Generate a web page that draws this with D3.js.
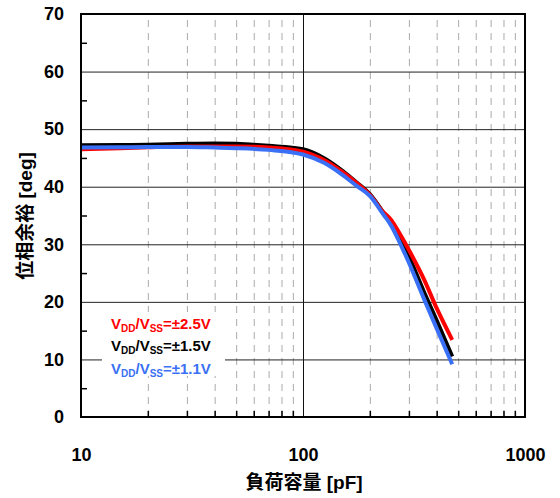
<!DOCTYPE html>
<html><head><meta charset="utf-8">
<script src="https://cdn.jsdelivr.net/npm/d3@7"></script>
<style>
html,body{margin:0;padding:0;background:#fff;}
svg{display:block;font-family:"Liberation Sans",Arial,sans-serif;}
</style></head>
<body><svg id="c" width="560" height="498"></svg>
<script>
// ---- data ----
const capacitance = [10, 15, 20, 30, 40, 50, 70, 100, 125, 150, 175, 200, 230, 250, 275, 300, 350, 400, 470];
const margin25 = [46.5, 46.7, 46.85, 47.0, 47.0, 47.0, 46.8, 46.1, 44.6, 42.6, 40.6, 38.6, 35.6, 34.2, 31.6, 29.0, 24.0, 18.9, 13.4];
const margin15 = [47.2, 47.25, 47.3, 47.45, 47.5, 47.45, 47.1, 46.5, 44.9, 42.8, 40.7, 38.7, 35.5, 33.4, 30.5, 27.8, 21.8, 16.8, 10.5];
const margin11 = [46.8, 46.85, 46.9, 46.9, 46.8, 46.7, 46.4, 45.6, 44.1, 42.1, 40.1, 38.4, 35.2, 33.2, 30.0, 26.8, 20.6, 15.4, 9.15];
const seriesNames = ["±2.5V", "±1.5V", "±1.1V"];
const seriesColors = ["#ff0000", "#000000", "#3a70f5"];
const yTicks = [0, 10, 20, 30, 40, 50, 60, 70];
const yMinor = [5, 15, 25, 35, 45, 55, 65];
const xTicks = [10, 100, 1000];
const xMinor = [20, 30, 40, 50, 60, 70, 80, 90, 200, 300, 400, 500, 600, 700, 800, 900];
const xTitle = "負荷容量 [pF]";
const yTitle = "位相余裕 [deg]";

// ---- chart ----
const svg = d3.select("#c");
const L = 81, R = 525, T = 14, B = 417;
const x = d3.scaleLog().domain([10, 1000]).range([L, R]);
const y = d3.scaleLinear().domain([0, 70]).range([B, T]);

svg.append("rect").attr("width", 560).attr("height", 498).attr("fill", "#fff");

// minor vertical dashed grid
svg.append("g").attr("transform", `translate(0,${B})`)
  .call(d3.axisBottom(x).tickValues(xMinor).tickSize(-(B - T)).tickFormat(""))
  .call(g => g.select(".domain").remove())
  .call(g => g.selectAll("line").attr("stroke", "#aaa").attr("stroke-width", 1).attr("stroke-dasharray", "7,6"));

// major vertical grid
svg.append("g").attr("transform", `translate(0,${B})`)
  .call(d3.axisBottom(x).tickValues([100]).tickSize(-(B - T)).tickFormat(""))
  .call(g => g.select(".domain").remove())
  .call(g => g.selectAll("line").attr("stroke", "#111").attr("stroke-width", 1));

// horizontal grid
svg.append("g").attr("transform", `translate(${L},0)`)
  .call(d3.axisLeft(y).tickValues(yTicks.filter(v => v > 0 && v < 70)).tickSize(-(R - L)).tickFormat(""))
  .call(g => g.select(".domain").remove())
  .call(g => g.selectAll("line").attr("stroke", "#222").attr("stroke-width", 1));

// minor ticks (inside)
svg.append("g").attr("transform", `translate(0,${B})`)
  .call(d3.axisBottom(x).tickValues(xMinor).tickSize(-6).tickFormat(""))
  .call(g => g.select(".domain").remove())
  .call(g => g.selectAll("line").attr("stroke", "#000").attr("stroke-width", 1.5));
svg.append("g").attr("transform", `translate(${L},0)`)
  .call(d3.axisLeft(y).tickValues(yMinor).tickSize(-6).tickFormat(""))
  .call(g => g.select(".domain").remove())
  .call(g => g.selectAll("line").attr("stroke", "#000").attr("stroke-width", 1.5));

// legend background box
svg.append("rect").attr("x", 102).attr("y", 312).attr("width", 123).attr("height", 64).attr("fill", "#fff");

// curves
const data = [margin25, margin15, margin11];
const line = d3.line().x(d => x(d[0])).y(d => y(d[1])).curve(d3.curveMonotoneX);
const order = [1, 0, 2];
order.forEach(i => {
  svg.append("path")
    .datum(capacitance.map((c, k) => [c, data[i][k]]))
    .attr("d", line).attr("fill", "none")
    .attr("stroke", seriesColors[i]).attr("stroke-width", 4)
    .attr("stroke-linejoin", "round").attr("stroke-linecap", "butt");
});

// frame
svg.append("rect").attr("x", L).attr("y", T).attr("width", R - L).attr("height", B - T)
  .attr("fill", "none").attr("stroke", "#000").attr("stroke-width", 2);

// tick labels via axes
svg.append("g").attr("transform", `translate(${L},0)`)
  .call(d3.axisLeft(y).tickValues(yTicks).tickSize(0).tickPadding(17).tickFormat(d3.format("d")))
  .call(g => g.select(".domain").remove())
  .call(g => g.selectAll("text").attr("font-size", 18).attr("font-weight", "bold").attr("fill", "#000")
    .attr("font-family", "Liberation Sans, Arial, sans-serif"));
svg.append("g").attr("transform", `translate(0,${B})`)
  .call(d3.axisBottom(x).tickValues(xTicks).tickSize(0).tickPadding(31).tickFormat(d3.format("d")))
  .call(g => g.select(".domain").remove())
  .call(g => g.selectAll("text").attr("font-size", 18).attr("font-weight", "bold").attr("fill", "#000")
    .attr("font-family", "Liberation Sans, Arial, sans-serif"));

// axis titles
svg.append("text").attr("x", 304).attr("y", 489).attr("text-anchor", "middle")
  .attr("font-size", 19).attr("font-weight", "bold")
  .attr("font-family", "Liberation Sans, Noto Sans CJK JP, sans-serif").text(xTitle);
svg.append("text").attr("transform", "translate(32,216) rotate(-90)").attr("text-anchor", "middle")
  .attr("font-size", 19).attr("font-weight", "bold")
  .attr("font-family", "Liberation Sans, Noto Sans CJK JP, sans-serif").text(yTitle);

// legend
const legY = [329, 351, 374];
seriesNames.forEach((n, i) => {
  const t = svg.append("text").attr("x", 111).attr("y", legY[i])
    .attr("font-size", 15).attr("font-weight", "bold").attr("fill", seriesColors[i])
    .attr("font-family", "Liberation Sans, Arial, sans-serif");
  t.append("tspan").text("V");
  t.append("tspan").attr("font-size", 10).attr("dy", 3).text("DD");
  t.append("tspan").attr("dy", -3).text("/V");
  t.append("tspan").attr("font-size", 10).attr("dy", 3).text("SS");
  t.append("tspan").attr("dy", -3).text("=" + n);
});
</script></body></html>
